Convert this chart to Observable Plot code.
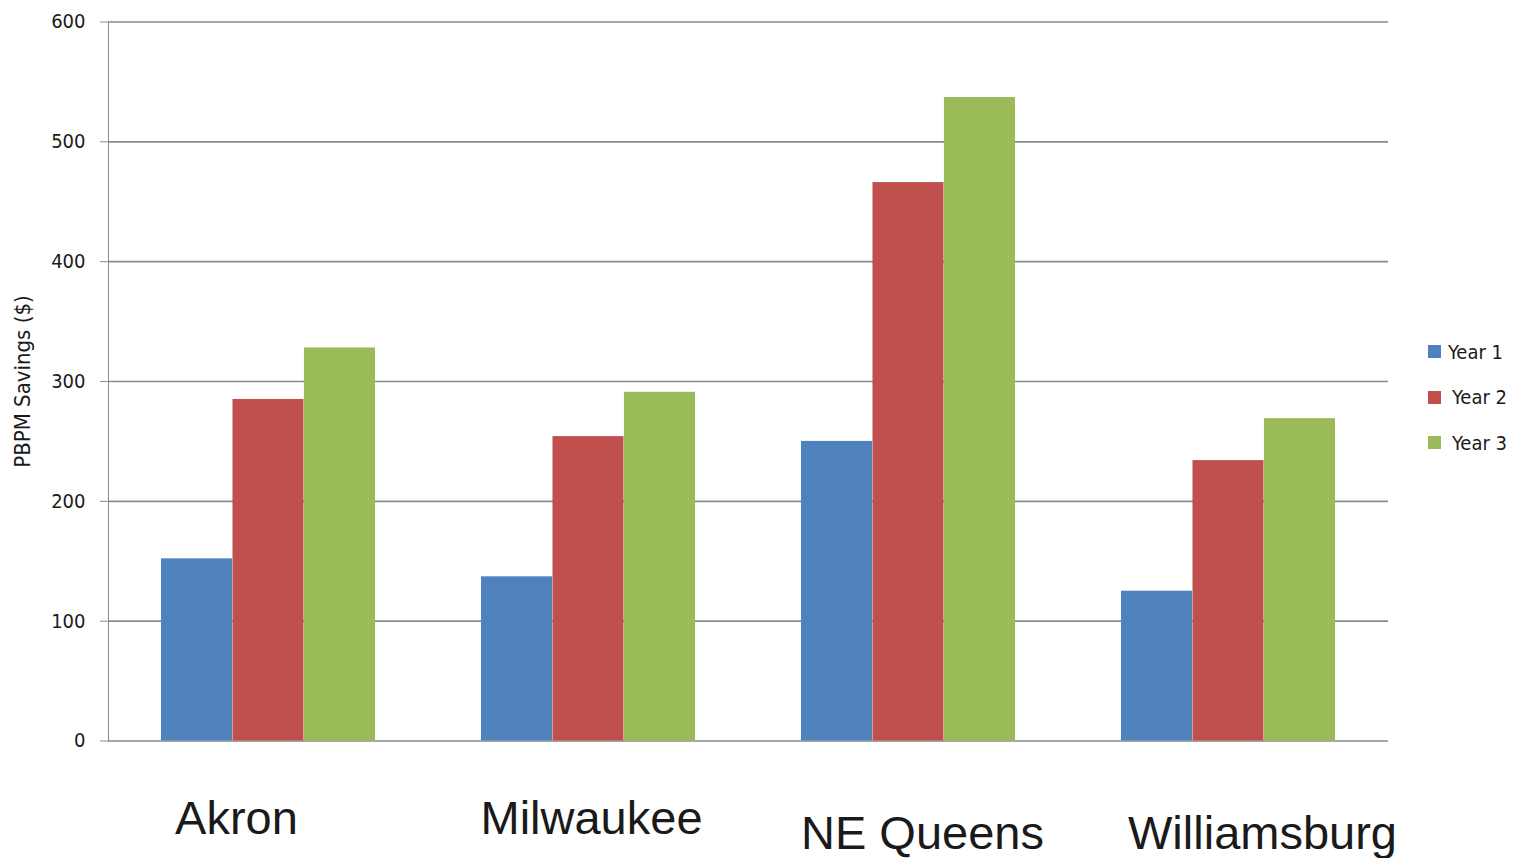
<!DOCTYPE html>
<html>
<head>
<meta charset="utf-8">
<script src="https://cdn.jsdelivr.net/npm/d3@7"></script>
<script src="https://cdn.jsdelivr.net/npm/@observablehq/plot@0.6"></script>
<style>
  html, body { margin: 0; padding: 0; background: #fff; }
  #wrap { position: relative; width: 1523px; height: 858px; overflow: hidden; }
  #chart svg text { fill: #1a1a1a; }
  #legend { position: absolute; left: 1428px; top: 340px; font-family: "DejaVu Sans Condensed", "DejaVu Sans", sans-serif; font-size: 20px; color: #1a1a1a; }
  #legend .item { display: flex; align-items: center; height: 23px; margin-bottom: 22.5px; }
  #legend .sw { width: 13px; height: 13px; margin-right: 7px; }
</style>
</head>
<body>
<div id="wrap">
  <div id="chart"></div>
  <div id="legend"></div>
</div>
<script>
const cities = ["Akron", "Milwaukee", "NE Queens", "Williamsburg"];
const series = ["Year 1", "Year 2", "Year 3"];
const year1 = [152, 137, 250, 125];
const year2 = [285, 254, 466, 234];
const year3 = [328, 291, 537, 269];
const yTicks = [0, 100, 200, 300, 400, 500, 600];
const colors = ["#4F81BD", "#C0504D", "#9BBB59"];
const yTitle = "PBPM Savings ($)";

const values = [year1, year2, year3];
const data = [];
series.forEach((s, i) => cities.forEach((c, j) => data.push({city: c, year: s, value: values[i][j]})));

const W = 1523, H = 858, mL = 108, mR = 135, mT = 21.5, mB = 117.5;
const pIn = 0.33, pOut = 0.165;
const band = d3.scaleBand().domain(cities).range([mL, W - mR]).paddingInner(pIn).paddingOuter(pOut);
const bw = band.bandwidth();
const sub = bw / series.length;

const barMarks = series.map((s, i) => Plot.barY(data.filter(d => d.year === s), {
  x: "city", y: "value", fill: "year",
  insetLeft: i * sub, insetRight: (series.length - 1 - i) * sub
}));

const chart = Plot.plot({
  width: W, height: H,
  marginLeft: mL, marginRight: mR, marginTop: mT, marginBottom: mB,
  style: {fontFamily: "'DejaVu Sans Condensed', 'DejaVu Sans', sans-serif", fontSize: "20px", color: "#8a8a8a", background: "#fff"},
  x: {domain: cities, paddingInner: pIn, paddingOuter: pOut, axis: null},
  y: {domain: [0, 600], ticks: yTicks, tickSize: 8, tickPadding: 15, line: true,
      label: yTitle, labelAnchor: "center", labelOffset: 94},
  color: {domain: series, range: colors},
  marks: [
    Plot.ruleY(yTicks, {stroke: "#8a8a8a", strokeWidth: 1.6}),
    ...barMarks,
    Plot.text(cities, {x: d => d, frameAnchor: "bottom", lineAnchor: "top", dy: 60,
      fontSize: 47, fontFamily: "'Liberation Sans', Arial, sans-serif", fill: "#000"})
  ]
});

// manual nudges of the large category labels, as placed in the original
const labelShift = {"Akron": [-32, 0], "Milwaukee": [3, 0], "NE Queens": [14, 15], "Williamsburg": [34, 15]};
chart.querySelectorAll("text").forEach(el => {
  const s = labelShift[el.textContent];
  if (s) el.setAttribute("transform", `translate(${s[0]},${s[1]}) ` + (el.getAttribute("transform") || ""));
  if (el.textContent.indexOf("PBPM") >= 0) {
    el.textContent = yTitle;
    el.style.fontSize = "22px";
  }
});
document.getElementById("chart").appendChild(chart);

const legend = document.getElementById("legend");
series.forEach((s, i) => {
  const item = document.createElement("div");
  item.className = "item";
  const sw = document.createElement("span");
  sw.className = "sw";
  sw.style.background = colors[i];
  if (i > 0) sw.style.marginRight = "11px";
  const t = document.createElement("span");
  t.textContent = s;
  item.appendChild(sw); item.appendChild(t);
  legend.appendChild(item);
});
</script>
</body>
</html>
